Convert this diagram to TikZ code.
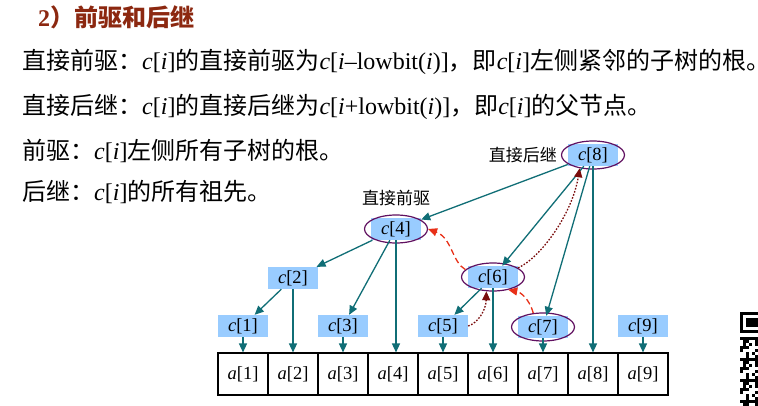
\documentclass[tikz,border=0pt]{standalone}
\usepackage{fontspec}
\setmainfont{Liberation Serif}
\newfontfamily\cjk{Noto Sans CJK SC}
\usetikzlibrary{arrows.meta,shapes.geometric}
\definecolor{cblue}{RGB}{153,204,255}
\definecolor{treec}{RGB}{16,110,118}
\definecolor{ringc}{RGB}{96,16,96}
\definecolor{titlec}{RGB}{140,40,16}
\definecolor{predc}{RGB}{232,48,24}
\definecolor{succc}{RGB}{122,12,12}
\newcommand\zh[1]{{\cjk #1}}
\newcommand\ci{\textit{c}[\textit{i}]}
\newcommand\cn[1]{\textit{c}[#1]}
\newcommand\an[1]{\textit{a}[#1]}

\begin{document}
\begin{tikzpicture}[x=1pt,y=-1pt,
  body/.style={anchor=base west, inner sep=0, font=\fontsize{24}{28}\selectfont},
  cbox/.style={fill=cblue, minimum width=50pt, minimum height=22pt, inner sep=0,
               font=\fontsize{18.5}{22}\selectfont},
  ring/.style={ellipse, draw=ringc, line width=1.2pt, minimum width=63pt,
               minimum height=28pt, inner sep=0},
  cell/.style={draw=black, line width=1.1pt, minimum width=50pt, minimum height=42pt,
               inner sep=0, font=\fontsize{18.5}{22}\selectfont},
  tip/.style={-{Triangle[length=9pt,width=8pt]}},
  tree/.style={draw=treec, line width=1.3pt, tip, treec},
  pred/.style={draw=predc, line width=1.3pt, dash pattern=on 6pt off 3.5pt, tip, predc},
  succ/.style={draw=succc, line width=1.3pt, dash pattern=on 1.6pt off 1.6pt, tip, succc},
  tag/.style={inner sep=0, font=\cjk\fontsize{17}{20}\selectfont}]

\fill[white] (0,0) rectangle (758,406);
\useasboundingbox (0,0) rectangle (758,406);

% heading and definitions
\node[body, text=titlec] (title) at (38,27) {\textbf{2}\zh{\bfseries ）前驱和后继}};
\node[body] (l1) at (22,70) {\zh{直接前驱：}\ci\zh{的直接前驱为}\textit{c}[\textit{i}–lowbit(\textit{i})]\zh{，即}\ci\zh{左侧紧邻的子树的根。}};
\node[body] (l2) at (22,115) {\zh{直接后继：}\ci\zh{的直接后继为}\textit{c}[\textit{i}+lowbit(\textit{i})]\zh{，即}\ci\zh{的父节点。}};
\node[body] (l3) at (22,160) {\zh{前驱：}\ci\zh{左侧所有子树的根。}};
\node[body] (l4) at (22,201) {\zh{后继：}\ci\zh{的所有祖先。}};

% array a[1..9]
\foreach \k in {1,...,9}
  \node[cell] (a\k) at ({193+50*\k},374) {\an{\k}};

% tree array c[1..9]
\node[cbox] (c1) at (243,326) {\cn{1}};
\node[cbox] (c2) at (293,278) {\cn{2}};
\node[cbox] (c3) at (343,326) {\cn{3}};
\node[cbox] (c4) at (396,229) {\cn{4}};
\node[cbox] (c5) at (443,326) {\cn{5}};
\node[cbox] (c6) at (493,277) {\cn{6}};
\node[cbox] (c7) at (543,327) {\cn{7}};
\node[cbox] (c8) at (593,155) {\cn{8}};
\node[cbox] (c9) at (643,326) {\cn{9}};

% highlighted nodes
\node[ring] (e4) at (c4) {};
\node[ring] (e6) at (c6) {};
\node[ring] (e7) at (c7) {};
\node[ring] (e8) at (c8) {};

\node[tag] (t4) at (396,198) {直接前驱};
\node[tag, anchor=east] (t8) at (557,155) {直接后继};

% parent -> child links
\draw[tree] (c8) -- (c4);
\draw[tree] (c8) -- (c6);
\draw[tree] (c8) -- (c7);
\draw[tree] (c8) -- (a8);
\draw[tree] (c4) -- (c2);
\draw[tree] (c4) -- (c3);
\draw[tree] (c4.south) -- (c4.south |- a4.north);
\draw[tree] (c2) -- (c1);
\draw[tree] (c2) -- (a2);
\draw[tree] (c6) -- (c5);
\draw[tree] (c6) -- (a6);
\draw[tree] (c1) -- (a1);
\draw[tree] (c3) -- (a3);
\draw[tree] (c5) -- (a5);
\draw[tree] (c7) -- (a7);
\draw[tree] (c9) -- (a9);

% immediate predecessors
\draw[pred] (e6.165) .. controls (452,262) and (452,238) .. (e4.east);
\draw[pred] (e7.125) .. controls (529,298) and (520,292) .. (e6.-40);

% immediate successors
\draw[succ] (c5.east) .. controls (478,323) and (486,310) .. (e6.-115);
\draw[succ] (e6.20) .. controls (540,258) and (572,215) .. (e8.-135);

% code patch at the right edge
\fill[black] (740,312) rectangle (758,333);
\fill[white] (743,315) rectangle (758,330);
\fill[black] (746,318) rectangle (758,327);
\foreach \r in {0,...,22}
  \foreach \c in {0,...,5}{
    \pgfmathtruncatemacro\v{mod(\r*\r*3+\c*7+\r*\c*5+1,7)}
    \ifnum\v<3 \fill[black] ({740+3*\c},{337+3*\r}) rectangle ++(3,3); \fi
  }
\end{tikzpicture}
\end{document}
